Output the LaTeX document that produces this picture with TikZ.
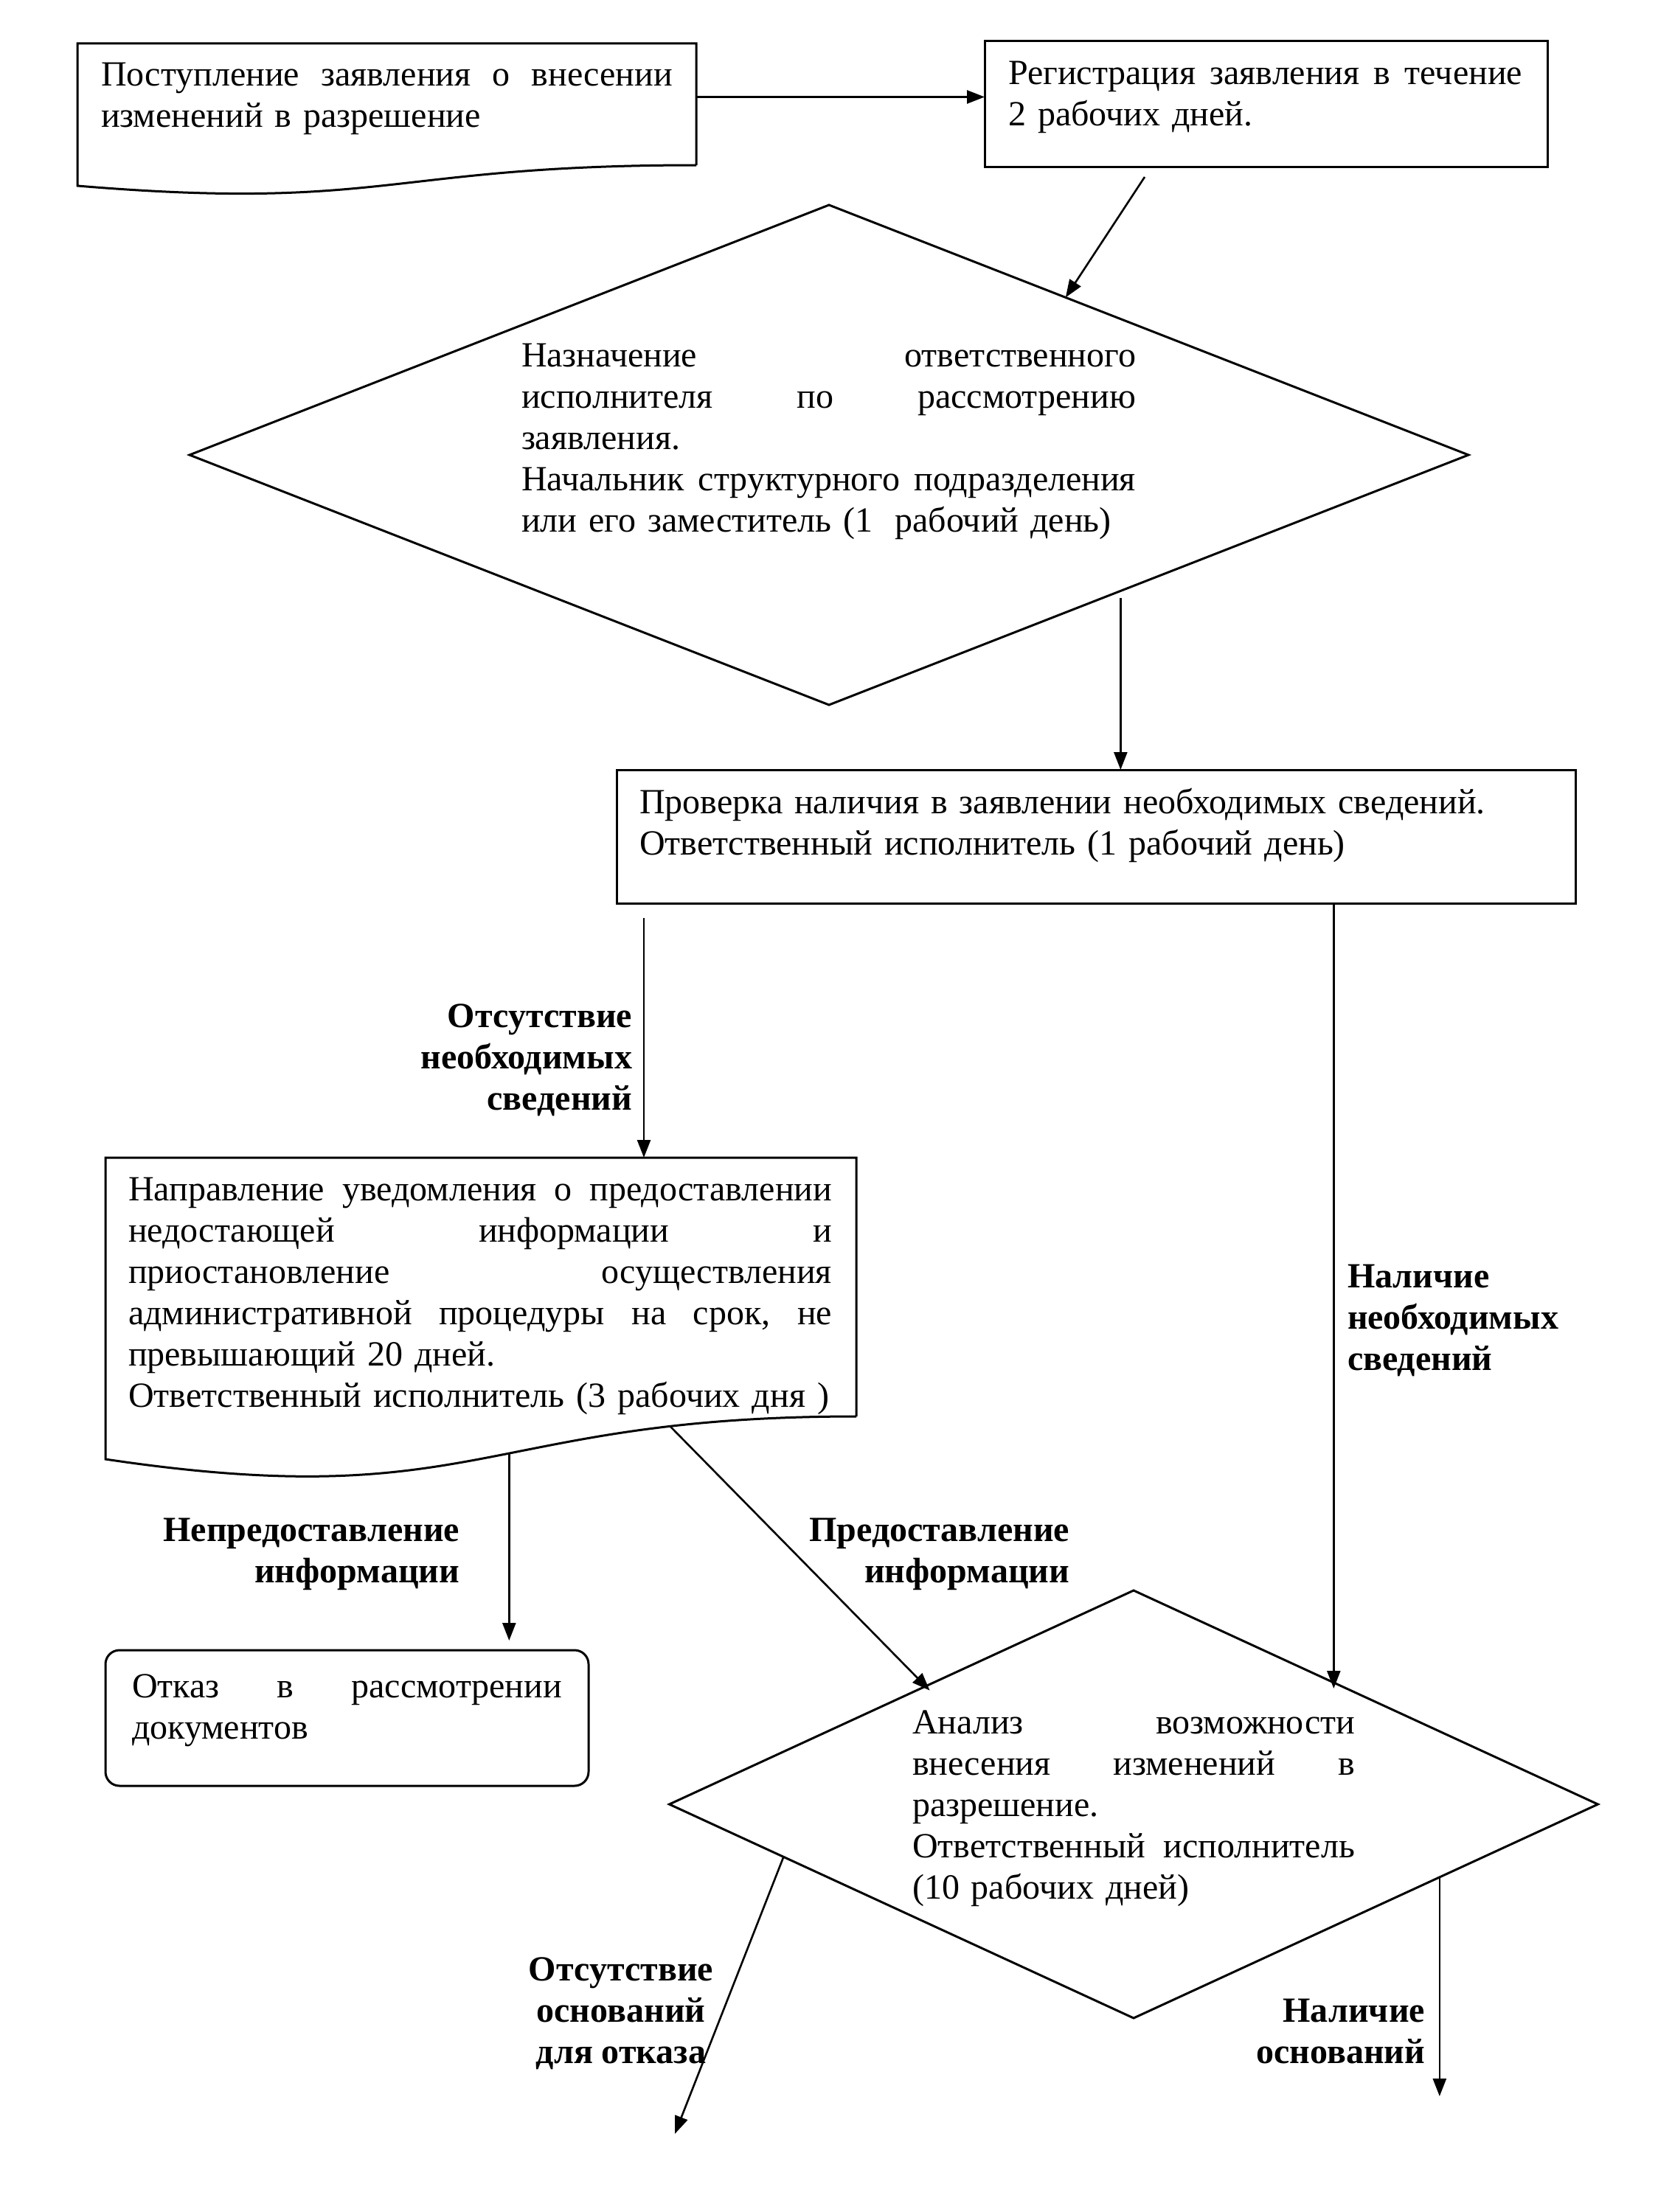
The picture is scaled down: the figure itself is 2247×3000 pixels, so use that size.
\documentclass[tikz,border=0pt]{standalone}
\usepackage{fontspec}
\setmainfont{Liberation Serif}
\usetikzlibrary{arrows.meta,shapes.geometric,calc}
\newcommand\jl[2]{\leavevmode\hbox to #1{#2}}
\begin{document}
\begin{tikzpicture}[x=1pt,y=-1pt,line width=3pt,
  every node/.style={inner sep=0pt,outer sep=0pt},
  boxshape/.style={draw,rectangle,anchor=north west},
  txt/.style={anchor=north west,align=left,font=\fontsize{48}{56}\selectfont},
  lbl/.style={font=\fontsize{48}{56}\selectfont\bfseries},
  arr/.style={-{Triangle[length=24pt,width=18pt]},line width=2.6pt}]
\useasboundingbox (0,0) rectangle (2247,3000);
% shapes
\node[anchor=north west,minimum width=839pt,minimum height=165pt] (b1) at (105,59) {};
\draw (b1.south east) -- (b1.north east) -- (b1.north west) -- ($(b1.south west)+(0,28)$)
  .. controls ($(b1.south)+(0,63)$) and (b1.south) .. (b1.south east);
\node[boxshape,minimum width=763pt,minimum height=170pt] (b2) at (1335,56) {};
\node[draw,diamond,minimum width=1734pt,minimum height=678pt] (d1) at (1124,617) {};
\node[boxshape,minimum width=1300pt,minimum height=181pt] (b3) at (836,1044) {};
\node[anchor=north west,minimum width=1018pt,minimum height=351pt] (b4) at (143,1570) {};
\draw (b4.south east) -- (b4.north east) -- (b4.north west) -- ($(b4.south west)+(0,58)$)
  .. controls ($(b4.south)+(0,134)$) and (b4.south) .. (b4.south east)
  coordinate[pos=0.55] (b4w1) coordinate[pos=0.8] (b4w2);
\node[boxshape,rounded corners=19pt,minimum width=655pt,minimum height=184pt] (b5) at (143,2238) {};
\node[draw,diamond,minimum width=1259pt,minimum height=580pt] (d2) at (1537,2447) {};
% texts
\node[txt,text width=775pt] (t1) at (137,85) {\jl{775pt}{Поступление\hfill заявления\hfill о\hfill внесении}\\изменений в разрешение};
\node[txt,text width=697pt] (t2) at (1367,83) {\jl{697pt}{Регистрация\hfill заявления\hfill в\hfill течение}\\2 рабочих дней.};
\node[txt,text width=833pt] (t3) at (707,466) {\jl{833pt}{Назначение\hfill ответственного}\\\jl{833pt}{исполнителя\hfill по\hfill рассмотрению}\\заявления.\\\jl{833pt}{Начальник\hfill структурного\hfill подразделения}\\или его заместитель (1\hspace{30pt}рабочий день)};
\node[txt,text width=1260pt] (t4) at (867,1069) {Проверка наличия в заявлении необходимых сведений.\\Ответственный исполнитель (1 рабочий день)};
\node[txt,text width=954pt] (t5) at (174,1597) {\jl{954pt}{Направление\hfill уведомления\hfill о\hfill предоставлении}\\\jl{954pt}{недостающей\hfill информации\hfill и}\\\jl{954pt}{приостановление\hfill осуществления}\\\jl{954pt}{административной\hfill процедуры\hfill на\hfill срок,\hfill не}\\превышающий 20 дней.\\Ответственный исполнитель (3 рабочих дня )};
\node[txt,text width=583pt] (t6) at (179,2271) {\jl{583pt}{Отказ\hfill в\hfill рассмотрении}\\документов};
\node[txt,text width=600pt] (t7) at (1237,2320) {\jl{600pt}{Анализ\hfill возможности}\\\jl{600pt}{внесения\hfill изменений\hfill в}\\разрешение.\\\jl{600pt}{Ответственный\hfill исполнитель}\\(10 рабочих дней)};
% labels
\node[lbl,align=right,anchor=north east] (l1) at (857,1362) {Отсутствие\\необходимых\\сведений};
\node[lbl,align=left,anchor=north west] (l2) at (1827,1715) {Наличие\\необходимых\\сведений};
\node[lbl,align=right,anchor=north east] (l3) at (623,2059) {Непредоставление\\информации};
\node[lbl,align=right,anchor=north east] (l4) at (1450,2059) {Предоставление\\информации};
\node[lbl,align=center,anchor=north] (l5) at (842,2655) {Отсутствие\\оснований\\для отказа};
\node[lbl,align=right,anchor=north east] (l6) at (1932,2711) {Наличие\\оснований};
% connectors
\coordinate (a1) at ([yshift=10pt]b1.east);
\draw[arr] (a1) -- (a1 -| b2.west);
\coordinate (a2s) at ($(b2.south west)+(217,14)$);
\coordinate (a2e) at ($(d1.north)!0.37!(d1.east)$);
\draw[arr] (a2s) -- (a2e);
\coordinate (a3s) at ($(d1.east)!0.544!(d1.south)$);
\draw[arr,shorten <=10pt] (a3s) -- (a3s |- b3.north);
\coordinate (a4e) at ($(b4.north west)+(730,0)$);
\draw[arr,shorten <=20pt] (a4e |- b3.south) -- (a4e);
\coordinate (a5e) at ($(d2.north)!0.431!(d2.east)$);
\draw[arr,shorten >=-8pt] (a5e |- b3.south) -- (a5e);
\draw[arr,shorten >=13pt] (b4w1) -- (b4w1 |- b5.north);
\coordinate (a7e) at ($(d2.west)!0.552!(d2.north)$);
\draw[arr,shorten >=-8pt] (b4w2) -- (a7e);
\coordinate (a8s) at ($(d2.west)!0.246!(d2.south)$);
\coordinate (o1) at (915,2894);
\draw[arr] (a8s) -- (o1);
\coordinate (a9s) at ($(d2.east)!0.341!(d2.south)$);
\coordinate (o2) at (1952,2843);
\draw[arr] (a9s) -- (a9s |- o2);
\end{tikzpicture}
\end{document}
